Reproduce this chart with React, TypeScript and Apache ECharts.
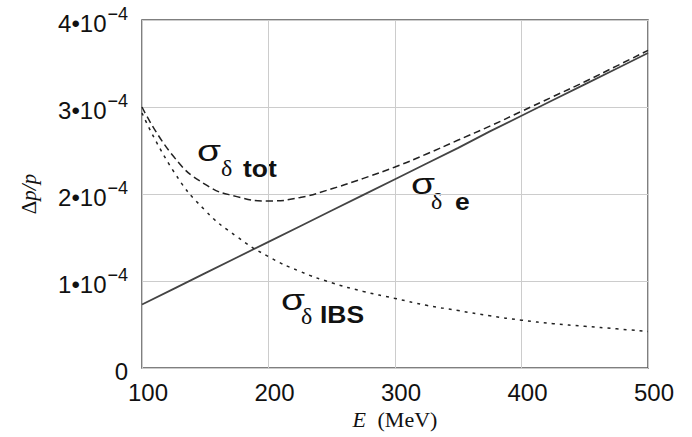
import React, { useEffect, useRef } from "react";
import * as echarts from "echarts";

// Energy E (MeV)
const energies = [100, 125, 150, 175, 200, 225, 250, 275, 300, 325, 350, 375, 400, 425, 450, 475, 500];
// values in units of 1e-4
const sigmaE = [0.73, 0.91, 1.09, 1.27, 1.45, 1.63, 1.81, 1.99, 2.17, 2.35, 2.53, 2.72, 2.9, 3.08, 3.26, 3.44, 3.62];
const sigmaIbs = [2.93, 2.26, 1.81, 1.51, 1.28, 1.11, 0.98, 0.88, 0.8, 0.72, 0.66, 0.6, 0.55, 0.51, 0.48, 0.45, 0.42];
const sigmaTot = [3.0, 2.43, 2.11, 1.97, 1.92, 1.96, 2.06, 2.18, 2.31, 2.46, 2.62, 2.78, 2.95, 3.12, 3.29, 3.47, 3.65];
const xTicks = [100, 200, 300, 400, 500];
const yTicks = [0, 1, 2, 3, 4];

const SANS = "'Liberation Sans', Arial, Helvetica, sans-serif";
const SERIF = "'Liberation Serif', 'DejaVu Serif', serif";

export default function App() {
  const ref = useRef<HTMLDivElement>(null);
  useEffect(() => {
    if (!ref.current) return;
    const chart = echarts.init(ref.current, null, { renderer: "svg" });
    const pair = (ys: number[]) => energies.map((e, i) => [e, ys[i]]);
    const txt = (x: number, y: number, text: string, font: string, size: number, weight = "normal", sx = 1) => ({
      type: "text",
      x,
      y,
      scaleX: sx,
      style: {
        text,
        fontFamily: font,
        fontSize: size,
        fontWeight: weight,
        fill: "#111",
        textAlign: "left",
        textVerticalAlign: "middle",
      },
    });
    const sigmaLabel = (sx: number, sy: number, dx: number, dy: number, bx: number, by: number, sub: string) => [
      txt(sx, sy, "σ", SANS, 30, "normal", 1.3),
      txt(dx, dy, "δ", SERIF, 24),
      txt(bx, by, sub, SANS, 23, "bold", 1.15),
    ];
    chart.setOption({
      animation: false,
      grid: {
        left: 142,
        right: 44,
        top: 20,
        bottom: 69,
        show: true,
        borderColor: "#555",
        borderWidth: 1.5,
        backgroundColor: "transparent",
      },
      xAxis: {
        type: "value",
        min: 100,
        max: 500,
        interval: 100,
        name: "{i|E}{r| (MeV)}",
        nameLocation: "middle",
        nameGap: 37,
        nameTextStyle: {
          rich: {
            i: { fontFamily: SERIF, fontSize: 22, fontStyle: "italic", color: "#111" },
            r: { fontFamily: SERIF, fontSize: 22, color: "#111", padding: [0, 0, 0, 6] },
          },
        },
        axisLine: { show: false },
        axisTick: { show: false },
        splitLine: { show: true, lineStyle: { color: "#ccc", width: 1 } },
        axisLabel: {
          margin: 12,
          fontFamily: SANS,
          fontSize: 24,
          color: "#111",
          padding: [0, 0, 0, 12],
          formatter: (v: number) => (xTicks.includes(v) ? String(v) : ""),
        },
      },
      yAxis: {
        type: "value",
        min: 0,
        max: 4,
        interval: 1,
        name: "{r|Δ}{i|p/p}",
        nameLocation: "middle",
        nameGap: 103,
        nameRotate: 90,
        nameTextStyle: {
          rich: {
            i: { fontFamily: SERIF, fontSize: 21, fontStyle: "italic", color: "#111" },
            r: { fontFamily: SERIF, fontSize: 21, color: "#111" },
          },
        },
        axisLine: { show: false },
        axisTick: { show: false },
        splitLine: { show: true, lineStyle: { color: "#ccc", width: 1 } },
        axisLabel: {
          margin: 14,
          color: "#111",
          formatter: (v: number) => {
            if (!yTicks.includes(v)) return "";
            if (v === 0) return "{m|0}";
            return "{m|" + v + "•10}{s|−4}";
          },
          rich: {
            m: { fontFamily: SANS, fontSize: 24, color: "#111", padding: [6, 0, 0, 0] },
            s: { fontFamily: SANS, fontSize: 18, color: "#111", verticalAlign: "top", padding: [0, 0, 10, 1] },
          },
        },
      },
      series: [
        {
          type: "line",
          data: pair(sigmaE),
          symbol: "none",
          lineStyle: { color: "#444", width: 1.8, type: "solid" },
        },
        {
          type: "line",
          data: pair(sigmaTot),
          symbol: "none",
          smooth: true,
          lineStyle: { color: "#222", width: 1.5, type: [7, 4] },
        },
        {
          type: "line",
          data: pair(sigmaIbs),
          symbol: "none",
          smooth: true,
          lineStyle: { color: "#222", width: 1.5, type: [3, 5] },
        },
      ],
      graphic: [
        ...sigmaLabel(197, 151, 221, 168, 243, 169, "tot"),
        ...sigmaLabel(411, 184, 431, 201, 455, 202, "e"),
        ...sigmaLabel(281, 300, 301, 316, 320, 315, "IBS"),
      ],
    });
    return () => chart.dispose();
  }, []);
  return <div ref={ref} style={{ width: 692, height: 437, position: "absolute", left: 0, top: 0 }} />;
}
